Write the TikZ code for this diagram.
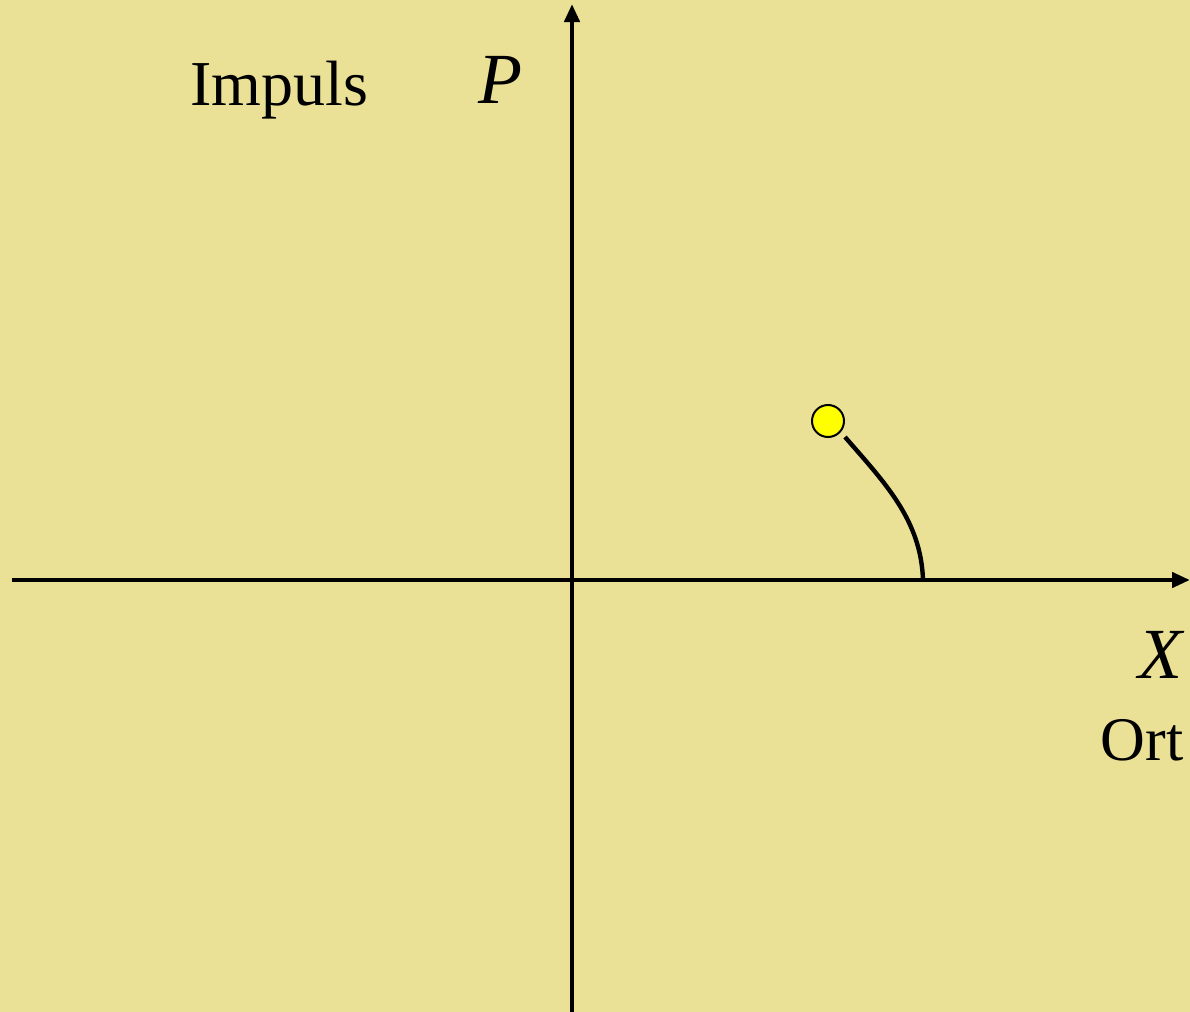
\documentclass[tikz,border=0pt]{standalone}
\usepackage{fontspec}
\setmainfont{Liberation Serif}
\newfontfamily\tnr{Liberation Serif}
\usetikzlibrary{arrows.meta}
\definecolor{bg}{HTML}{EAE196}
\definecolor{dot}{HTML}{FFFF00}
\tikzset{
  axis/.style={line width=2.2pt, -{Triangle[length=9pt,width=7.5pt]}},
  curveline/.style={line width=2.2pt},
  lab/.style={inner sep=0pt, font=\tnr\fontsize{31}{36}\selectfont},
  biglab/.style={inner sep=0pt, font=\tnr\fontsize{36}{42}\selectfont\itshape},
}
\begin{document}
\begin{tikzpicture}[x=0.5pt,y=-0.5pt]
\fill[bg] (0,0) rectangle (1190,1012);
\useasboundingbox (0,0) rectangle (1190,1012);
\coordinate (yb) at (572,1012);
\coordinate (yt) at (572,4);
\coordinate (xl) at (12,580);
\coordinate (xr) at (1190,580);
\draw[axis] (yb) -- (yt);
\draw[axis] (xl) -- (xr);
\node[circle, minimum size=16pt, inner sep=0pt, fill=dot, draw=black, line width=1pt] (ball) at (828,421) {};
\coordinate (start) at (845,437);
\coordinate (foot) at (923,580);
\draw[curveline] (start) .. controls (885,483) and (921,520) .. (foot);
\node[lab, anchor=base west, font=\tnr\fontsize{32}{36}\selectfont] (imp) at (190,105) {Impuls};
\node[biglab, anchor=base west] (p) at (478,103) {P};
\node[biglab, anchor=base east] (x) at (1183,678) {X};
\node[lab, anchor=base east] (ort) at (1184,760) {Ort};
\end{tikzpicture}
\end{document}
